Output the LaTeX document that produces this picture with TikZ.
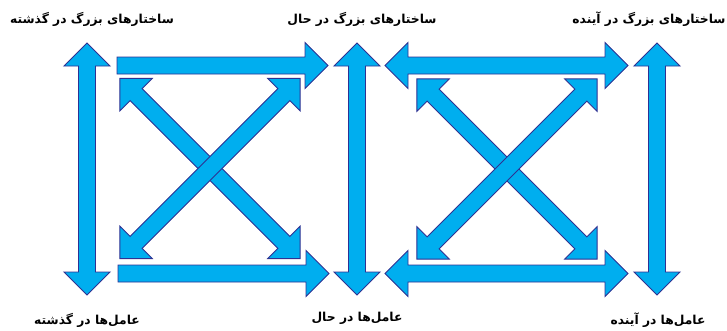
\documentclass[tikz,border=0pt]{standalone}
\usepackage{fontspec}
\newfontfamily\fafont[Script=Arabic]{DejaVu Sans}
\TeXXeTstate=1
\definecolor{arrowfill}{HTML}{00AEEF}
\definecolor{arrowline}{HTML}{2E3192}
\tikzset{
  arrowshape/.style={fill=arrowfill, draw=arrowline, line width=0.9pt, line join=miter},
  labelnode/.style={font=\fafont\bfseries\fontsize{12.3}{14}\selectfont, inner sep=0pt, text=black}
}
% double-headed block arrow: centre x, centre y, angle, length
\newcommand\dblarr[4]{%
  \begin{scope}[shift={(#1,#2)},rotate=#3]
    \pgfmathsetmacro\hl{#4/2}
    \pgfmathsetmacro\hb{#4/2-23}
    \draw[arrowshape] (-\hl,0) -- (-\hb,-23) -- (-\hb,-8.5) -- (\hb,-8.5) -- (\hb,-23)
      -- (\hl,0) -- (\hb,23) -- (\hb,8.5) -- (-\hb,8.5) -- (-\hb,23) -- cycle;
  \end{scope}}
% single-headed block arrow (pointing toward +angle)
\newcommand\sglarr[4]{%
  \begin{scope}[shift={(#1,#2)},rotate=#3]
    \pgfmathsetmacro\hl{#4/2}
    \pgfmathsetmacro\hb{#4/2-23}
    \draw[arrowshape] (-\hl,-8.5) -- (\hb,-8.5) -- (\hb,-23)
      -- (\hl,0) -- (\hb,23) -- (\hb,8.5) -- (-\hl,8.5) -- cycle;
  \end{scope}}
\begin{document}
\begin{tikzpicture}[x=1pt,y=-1pt]
\useasboundingbox (0,0) rectangle (727,330);
% verticals
\dblarr{87}{169}{90}{252}
\dblarr{357}{169}{90}{252}
\dblarr{657}{169}{90}{252}
% left square
\sglarr{222.5}{65.5}{0}{211}
\sglarr{223.5}{273.5}{0}{211}
\dblarr{210}{168.5}{-45}{255}
\dblarr{210}{168.5}{45}{255}
% right square
\dblarr{506.5}{65.5}{0}{243}
\dblarr{506.5}{273.5}{0}{243}
\dblarr{507}{169}{-45}{255}
\dblarr{507}{169}{45}{255}
% labels
\node[labelnode] (tpast) at (92,19) {\beginR ساختارهای بزرگ در گذشته\endR};
\node[labelnode] (tnow) at (362,19) {\beginR ساختارهای بزرگ در حال\endR};
\node[labelnode] (tfut) at (649,19) {\beginR ساختارهای بزرگ در آینده\endR};
\node[labelnode] (bpast) at (87,320) {\beginR عامل‌ها در گذشته\endR};
\node[labelnode] (bnow) at (357,318) {\beginR عامل‌ها در حال\endR};
\node[labelnode] (bfut) at (658,320) {\beginR عامل‌ها در آینده\endR};
\end{tikzpicture}
\end{document}
